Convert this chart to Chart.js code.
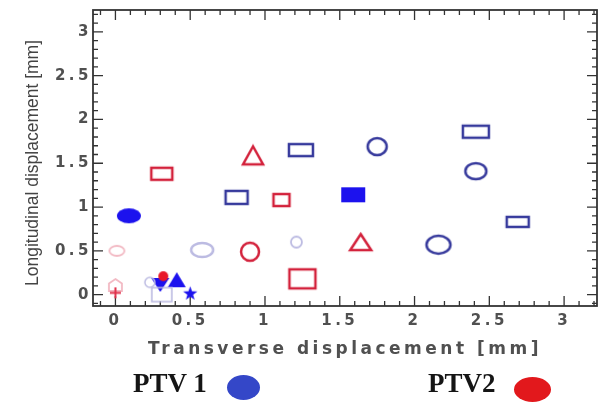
<!DOCTYPE html>
<html>
<head>
<meta charset="utf-8">
<script src="https://cdn.jsdelivr.net/npm/chart.js@4"></script>
<style>
    html, body { margin: 0; padding: 0; background: #fff; }
    #wrap { position: relative; width: 605px; height: 404px; overflow: hidden; }
    #grafico { position: absolute; left: 0; top: 0; }
    .leg { position: absolute; font: bold 27px 'Liberation Serif', 'Times New Roman', serif; line-height: 27px; color: #151515; white-space: nowrap; }
    .dot { position: absolute; border-radius: 50%; }
</style>
</head>
<body>
<div id="wrap">
    <canvas id="grafico" width="605" height="404"></canvas>
    <div class="leg" style="left:133px;top:370px">PTV 1</div>
    <div class="dot" style="left:227px;top:375px;width:33px;height:25px;background:#3447c8"></div>
    <div class="leg" style="left:428px;top:370px">PTV2</div>
    <div class="dot" style="left:514px;top:377px;width:37px;height:25px;background:#e2181c"></div>
</div>
<script>
// Valores (mm)
const ptv1X = [0.09, 0.81, 1.24, 1.75, 2.41, 2.41, 1.59, 2.69, 2.16, 0.58, 1.21, 0.41, 0.30, 0.50, 0.31, 0.23];
const ptv1Y = [0.90, 1.11, 1.65, 1.69, 1.86, 1.41, 1.14, 0.83, 0.57, 0.51, 0.60, 0.17, 0.11, 0.01, 0.00, 0.14];
const ptv2X = [0.31, 0.92, 1.11, 0.90, 1.25, 1.64, 0.01, 0.00, 0.00, 0.32];
const ptv2Y = [1.38, 1.59, 1.08, 0.49, 0.18, 0.60, 0.50, 0.11, 0.02, 0.21];

const xTicks = [0, 0.5, 1, 1.5, 2, 2.5, 3];
const xTickLabels = ['0', '0.5', '1', '1.5', '2', '2.5', '3'];
const yTicks = [0, 0.5, 1, 1.5, 2, 2.5, 3];
const yTickLabels = ['0', '0.5', '1', '1.5', '2', '2.5', '3'];

const xTitle = 'Transverse displacement [mm]';
const yTitle = 'Longitudinal displacement [mm]';

// cores
const azul = '#36399c';
const azulCheio = '#1c12ee';
const azulClaro = '#bcbbe2';
const vermelho = '#d3213b';
const vermelhoClaro = '#f2b9c3';
const cinzaTexto = '#505050';

// desenha um marcador num canvas pequeno (usado como pointStyle)
function marcador(forma, w, h, cor, cheio, lw) {
    lw = lw || 2.5;
    const pad = 3;
    const c = document.createElement('canvas');
    c.width = Math.ceil(w + pad * 2);
    c.height = Math.ceil(h + pad * 2);
    const g = c.getContext('2d');
    g.translate(c.width / 2, c.height / 2);
    g.lineWidth = lw;
    g.strokeStyle = cor;
    g.fillStyle = cor;
    g.beginPath();
    if (forma === 'rect') {
        g.rect(-w / 2, -h / 2, w, h);
    } else if (forma === 'ellipse') {
        g.ellipse(0, 0, w / 2, h / 2, 0, 0, Math.PI * 2);
    } else if (forma === 'tri') {
        g.moveTo(0, -h / 2);
        g.lineTo(w / 2, h / 2);
        g.lineTo(-w / 2, h / 2);
        g.closePath();
    } else if (forma === 'triDown') {
        g.moveTo(-w / 2, -h / 2);
        g.lineTo(w / 2, -h / 2);
        g.lineTo(0, h / 2);
        g.closePath();
    } else if (forma === 'star') {
        for (let i = 0; i < 10; i++) {
            const r = i % 2 === 0 ? w / 2 : w / 5;
            const a = -Math.PI / 2 + i * Math.PI / 5;
            g.lineTo(r * Math.cos(a), r * Math.sin(a));
        }
        g.closePath();
    } else if (forma === 'house') {
        g.moveTo(0, -h / 2);
        g.lineTo(w / 2, -h / 8);
        g.lineTo(w / 2, h / 2);
        g.lineTo(-w / 2, h / 2);
        g.lineTo(-w / 2, -h / 8);
        g.closePath();
    } else if (forma === 'plus') {
        g.moveTo(-w / 2, 0); g.lineTo(w / 2, 0);
        g.moveTo(0, -h / 2); g.lineTo(0, h / 2);
    }
    if (cheio) g.fill(); else g.stroke();
    return c;
}

const estilosPtv1 = [
    marcador('ellipse', 24, 15, azulCheio, true),
    marcador('rect', 22, 13, azul),
    marcador('rect', 24, 12, azul),
    marcador('ellipse', 19, 17, azul),
    marcador('rect', 26, 12, azul),
    marcador('ellipse', 21, 16, azul),
    marcador('rect', 24, 15, azulCheio, true),
    marcador('rect', 22, 10, azul),
    marcador('ellipse', 24, 18, azul),
    marcador('ellipse', 22, 14, azulClaro),
    marcador('ellipse', 11, 11, azulClaro, false, 1.8),
    marcador('tri', 18, 15, azulCheio, true),
    marcador('triDown', 18, 14, azulCheio, true),
    marcador('star', 15, 14, azulCheio, true),
    marcador('rect', 20, 14, azulClaro, false, 1.6),
    marcador('ellipse', 10, 10, azulClaro, false, 1.5)
];

const estilosPtv2 = [
    marcador('rect', 21, 12, vermelho),
    marcador('tri', 20, 18, vermelho),
    marcador('rect', 16, 12, vermelho),
    marcador('ellipse', 18, 18, vermelho),
    marcador('rect', 26, 19, vermelho),
    marcador('tri', 21, 16, vermelho),
    marcador('ellipse', 15, 10, vermelhoClaro, false, 1.8),
    marcador('house', 13, 12, vermelhoClaro, false, 1.8),
    marcador('plus', 11, 11, '#e0304a', false, 2),
    marcador('ellipse', 10, 10, '#e8182a', true)
];

function pontos(xs, ys) {
    return xs.map((x, i) => ({ x: x, y: ys[i] }));
}

// moldura com marcas maiores e menores nos quatro lados
const moldura = {
    id: 'moldura',
    beforeDatasetsDraw(chart) {
        const ctx = chart.ctx;
        ctx.letterSpacing = '0px';
        const a = chart.chartArea;
        const sx = chart.scales.x;
        const sy = chart.scales.y;
        ctx.save();
        ctx.strokeStyle = '#333';
        ctx.lineWidth = 1.8;
        ctx.strokeRect(a.left, a.top, a.right - a.left, a.bottom - a.top);
        ctx.lineWidth = 1.3;
        ctx.beginPath();
        for (let i = -1; i <= 32; i++) {
            const v = i / 10;
            const len = i % 5 === 0 ? 10 : 5;
            const px = sx.getPixelForValue(v);
            if (px > a.left + 1 && px < a.right - 1) {
                ctx.moveTo(px, a.bottom); ctx.lineTo(px, a.bottom - len);
                ctx.moveTo(px, a.top); ctx.lineTo(px, a.top + len);
            }
            const py = sy.getPixelForValue(v);
            if (py > a.top + 1 && py < a.bottom - 1) {
                ctx.moveTo(a.left, py); ctx.lineTo(a.left + len, py);
                ctx.moveTo(a.right, py); ctx.lineTo(a.right - len, py);
            }
        }
        ctx.stroke();
        ctx.restore();
    }
};

// espaçamento das letras dos eixos e título vertical
const textos = {
    id: 'textos',
    beforeDraw(chart) {
        chart.ctx.letterSpacing = '3.5px';
    },
    afterDraw(chart) {
        const ctx = chart.ctx;
        ctx.save();
        ctx.letterSpacing = '0px';
        ctx.translate(38, 163);
        ctx.rotate(-Math.PI / 2);
        ctx.font = '17.5px "Liberation Sans", Arial, sans-serif';
        ctx.fillStyle = '#444';
        ctx.textAlign = 'center';
        ctx.textBaseline = 'alphabetic';
        ctx.fillText(yTitle, 0, 0);
        ctx.restore();
    }
};

const ctx = document.getElementById('grafico').getContext('2d');

new Chart(ctx, {
    type: 'scatter',
    data: {
        datasets: [{
            label: 'PTV 1',
            data: pontos(ptv1X, ptv1Y),
            pointStyle: estilosPtv1,
            order: 1
        }, {
            label: 'PTV2',
            data: pontos(ptv2X, ptv2Y),
            pointStyle: estilosPtv2,
            order: 0
        }]
    },
    options: {
        responsive: false,
        animation: false,
        devicePixelRatio: 1,
        layout: {
            padding: { top: 10, right: 8, bottom: 44, left: 0 }
        },
        scales: {
            x: {
                type: 'linear',
                min: -0.15,
                max: 3.22,
                afterBuildTicks: s => { s.ticks = xTicks.map(v => ({ value: v })); },
                afterFit: s => { s.height = 54; },
                grid: { display: false, drawTicks: false },
                border: { display: false },
                ticks: {
                    autoSkip: false,
                    maxRotation: 0,
                    padding: 6,
                    color: cinzaTexto,
                    font: { family: "'DejaVu Sans', sans-serif", size: 15, weight: 'bold' },
                    callback: (v, i) => xTickLabels[i]
                },
                title: {
                    display: true,
                    text: xTitle,
                    color: cinzaTexto,
                    font: { family: "'DejaVu Sans', sans-serif", size: 17, weight: 'bold' },
                    padding: { top: 0, bottom: 0 }
                }
            },
            y: {
                type: 'linear',
                min: -0.13,
                max: 3.25,
                afterBuildTicks: s => { s.ticks = yTicks.map(v => ({ value: v })); },
                afterFit: s => { s.width = 93; },
                grid: { display: false, drawTicks: false },
                border: { display: false },
                ticks: {
                    padding: 1,
                    color: cinzaTexto,
                    font: { family: "'DejaVu Sans', sans-serif", size: 15, weight: 'bold' },
                    callback: (v, i) => yTickLabels[i]
                }
            }
        },
        plugins: {
            legend: { display: false },
            tooltip: { enabled: false }
        }
    },
    plugins: [moldura, textos]
});
</script>
</body>
</html>
